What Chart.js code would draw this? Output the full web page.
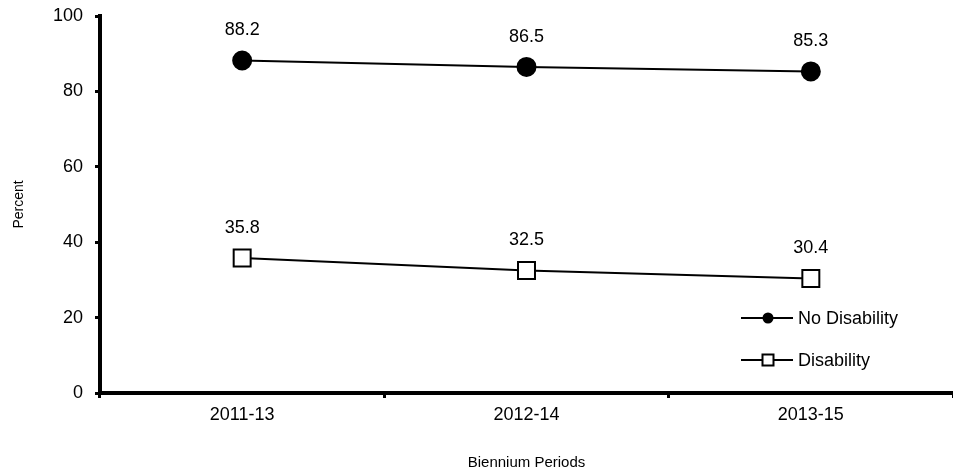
<!DOCTYPE html>
<html>
<head>
<meta charset="utf-8">
<script src="https://cdn.jsdelivr.net/npm/chart.js@4.4.1/dist/chart.umd.min.js"></script>
<style>
    html, body { margin: 0; padding: 0; background: #fff; overflow: hidden; }
    #wrap { width: 953px; height: 476px; position: relative; }
    canvas { display: block; }
</style>
</head>
<body>
<div id="wrap"><canvas id="chart"></canvas></div>
<script>
const periods = ['2011-13', '2012-14', '2013-15'];
const noDisability = [88.2, 86.5, 85.3];
const disability = [35.8, 32.5, 30.4];
const seriesNames = ['No Disability', 'Disability'];
const yTicks = [0, 20, 40, 60, 80, 100];

const FONT = '"Liberation Sans", Arial, sans-serif';

// value labels above each point
const valueLabels = {
    id: 'valueLabels',
    afterDatasetsDraw(chart) {
        const ctx = chart.ctx;
        ctx.save();
        ctx.font = '18px ' + FONT;
        ctx.fillStyle = '#000';
        ctx.textAlign = 'center';
        ctx.textBaseline = 'middle';
        chart.data.datasets.forEach((ds, i) => {
            chart.getDatasetMeta(i).data.forEach((pt, j) => {
                ctx.fillText(ds.data[j].toFixed(1), pt.x, pt.y - 30);
            });
        });
        ctx.restore();
    }
};

// legend drawn as line - marker - line, bottom right of the plot
const lineLegend = {
    id: 'lineLegend',
    afterDraw(chart) {
        const ctx = chart.ctx;
        const area = chart.chartArea;
        const x0 = area.right - 212;
        const rows = [area.bottom - 75, area.bottom - 33];
        ctx.save();
        chart.data.datasets.forEach((ds, i) => {
            const y = rows[i];
            ctx.strokeStyle = '#000';
            ctx.lineWidth = 2;
            ctx.beginPath();
            ctx.moveTo(x0, y);
            ctx.lineTo(x0 + 52, y);
            ctx.stroke();
            const cx = x0 + 27;
            if (ds.pointStyle === 'circle') {
                ctx.fillStyle = '#000';
                ctx.beginPath();
                ctx.arc(cx, y, 5.5, 0, Math.PI * 2);
                ctx.fill();
            } else {
                ctx.fillStyle = '#fff';
                ctx.fillRect(cx - 5.5, y - 5.5, 11, 11);
                ctx.strokeRect(cx - 5.5, y - 5.5, 11, 11);
            }
            ctx.fillStyle = '#000';
            ctx.font = '18px ' + FONT;
            ctx.textAlign = 'left';
            ctx.textBaseline = 'middle';
            ctx.fillText(ds.label, x0 + 57, y + 1);
        });
        ctx.restore();
    }
};

function initializeChart() {
    const ctx = document.getElementById('chart').getContext('2d');
    new Chart(ctx, {
        type: 'line',
        data: {
            labels: periods,
            datasets: [{
                label: seriesNames[0],
                data: noDisability,
                borderColor: '#000',
                borderWidth: 2,
                pointStyle: 'circle',
                pointRadius: 9,
                pointBackgroundColor: '#000',
                pointBorderColor: '#000',
                tension: 0
            }, {
                label: seriesNames[1],
                data: disability,
                borderColor: '#000',
                borderWidth: 2,
                pointStyle: 'rect',
                pointRadius: 12,
                pointBackgroundColor: '#fff',
                pointBorderColor: '#000',
                pointBorderWidth: 2,
                tension: 0
            }]
        },
        options: {
            responsive: true,
            maintainAspectRatio: false,
            animation: false,
            layout: { autoPadding: false, padding: { top: 16, left: 0, right: 0, bottom: 0 } },
            plugins: {
                legend: { display: false },
                tooltip: { enabled: false }
            },
            scales: {
                x: {
                    offset: true,
                    grid: { offset: true, drawOnChartArea: false, color: '#000', lineWidth: 3, tickLength: 5 },
                    border: { color: '#000', width: 4 },
                    ticks: { color: '#000', font: { family: FONT, size: 18 }, padding: 6 },
                    title: { display: true, text: 'Biennium Periods', color: '#000', font: { family: FONT, size: 15 }, padding: { top: 0, bottom: 4 } },
                    afterFit(scale) {
                        scale.height = 83;
                        scale.paddingLeft = 0;
                        scale.paddingRight = 0;
                    }
                },
                y: {
                    min: 0,
                    max: 100,
                    afterBuildTicks(scale) { scale.ticks = yTicks.map(v => ({ value: v })); },
                    grid: { drawOnChartArea: false, color: '#000', lineWidth: 3, tickLength: 5 },
                    border: { color: '#000', width: 4 },
                    ticks: { color: '#000', font: { family: FONT, size: 18 }, padding: 12 },
                    title: { display: true, text: 'Percent', color: '#000', font: { family: FONT, size: 14 }, padding: { top: 11, bottom: 0 } },
                    afterFit(scale) {
                        scale.width = 100;
                        scale.paddingTop = 0;
                        scale.paddingBottom = 0;
                    }
                }
            }
        },
        plugins: [valueLabels, lineLegend]
    });
}

document.addEventListener('DOMContentLoaded', initializeChart);
</script>
</body>
</html>
